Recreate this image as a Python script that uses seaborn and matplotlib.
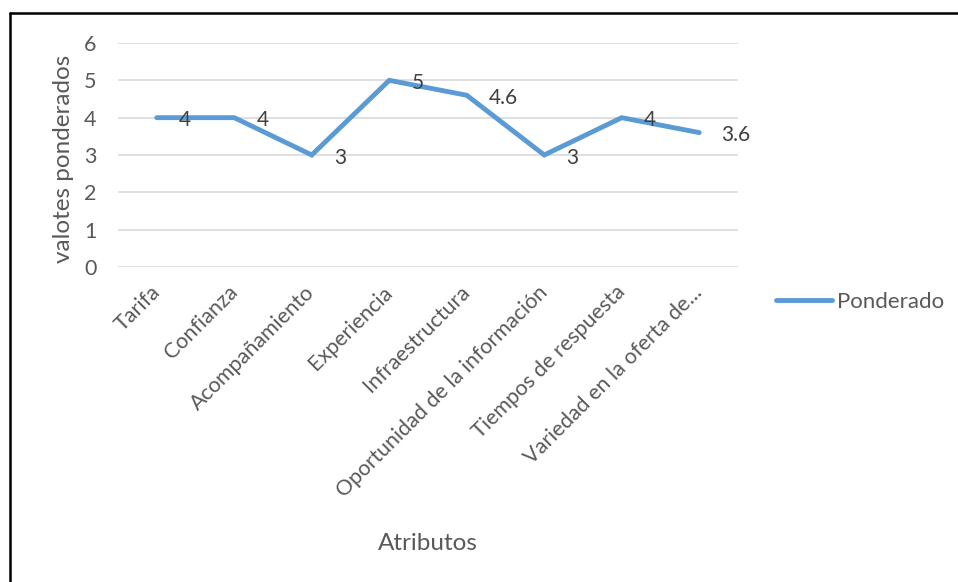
import matplotlib
matplotlib.use("Agg")
import matplotlib.pyplot as plt
from matplotlib.lines import Line2D
import pandas as pd
import seaborn as sns

# Weighted scores per attribute
atributos = [
    "Tarifa",
    "Confianza",
    "Acompañamiento",
    "Experiencia",
    "Infraestructura",
    "Oportunidad de la información",
    "Tiempos de respuesta",
    "Variedad en la oferta de...",
]
ponderado = [4, 4, 3, 5, 4.6, 3, 4, 3.6]
y_ticks = [0, 1, 2, 3, 4, 5, 6]

df = pd.DataFrame({"Atributos": atributos, "Ponderado": ponderado})

sns.set_theme(style="white")
plt.rcParams["font.family"] = ["Lato", "DejaVu Sans"]

TEXT = "#595959"
BLUE = "#5B9BD5"
GRID = "#D9D9D9"
FS_TICK = 15.5
FS_TITLE = 17.5
FS_LABEL = 15
FS_LEG = 16
LW = 3.5

fig = plt.figure(figsize=(9.58, 5.82), dpi=100)
ax = fig.add_axes([118 / 958, 1 - 267 / 582, 620 / 958, 224 / 582])

sns.lineplot(data=df, x="Atributos", y="Ponderado", ax=ax, color=BLUE,
             linewidth=LW, sort=False, solid_capstyle="round",
             solid_joinstyle="miter")

ax.set_xlim(-0.5, len(atributos) - 0.5)
ax.set_ylim(0, 6)
ax.set_yticks(y_ticks)
ax.set_yticklabels([str(v) for v in y_ticks], fontsize=FS_TICK, color=TEXT)
ax.set_xticks(range(len(atributos)))
ax.set_xticklabels(atributos, rotation=45, ha="right", va="center",
                   rotation_mode="anchor", fontsize=FS_TICK, color=TEXT)
ax.tick_params(axis="both", length=0)
ax.tick_params(axis="x", pad=16)
ax.tick_params(axis="y", pad=15.5)
ax.yaxis.grid(True, color=GRID, linewidth=1.2)
ax.set_axisbelow(True)
for s in ax.spines.values():
    s.set_visible(False)

# Value labels to the right of each point
for i, v in enumerate(ponderado):
    ax.annotate(f"{v:g}", (i, v), xytext=(16, -2), textcoords="offset points",
                ha="left", va="center", fontsize=FS_LABEL, color="#404040")

ax.set_xlabel("")
ax.set_ylabel("")
fig.text(428 / 958, 1 - 543 / 582, "Atributos", ha="center", va="center",
         fontsize=FS_TITLE, color=TEXT)
fig.text(63 / 958, 1 - 159 / 582, "valotes ponderados", ha="center",
         va="center", rotation=90, fontsize=FS_TITLE, color=TEXT)

handle = Line2D([], [], color=BLUE, linewidth=LW, solid_capstyle="round")
fig.legend([handle], ["Ponderado"], loc="center left",
           bbox_to_anchor=(776 / 958, 1 - 302 / 582), frameon=False,
           fontsize=FS_LEG, handlelength=2.5, handletextpad=0.25,
           labelcolor=TEXT, borderaxespad=0, borderpad=0)

# Frame lines along the top and left edges
fig.add_artist(Line2D([10 / 958, 10 / 958], [0, 1 - 13 / 582],
                      transform=fig.transFigure, color="black", linewidth=1.8))
fig.add_artist(Line2D([10 / 958, 1], [1 - 13 / 582, 1 - 13 / 582],
                      transform=fig.transFigure, color="black", linewidth=1.8))

fig.savefig("out.png", dpi=100, facecolor="white")
